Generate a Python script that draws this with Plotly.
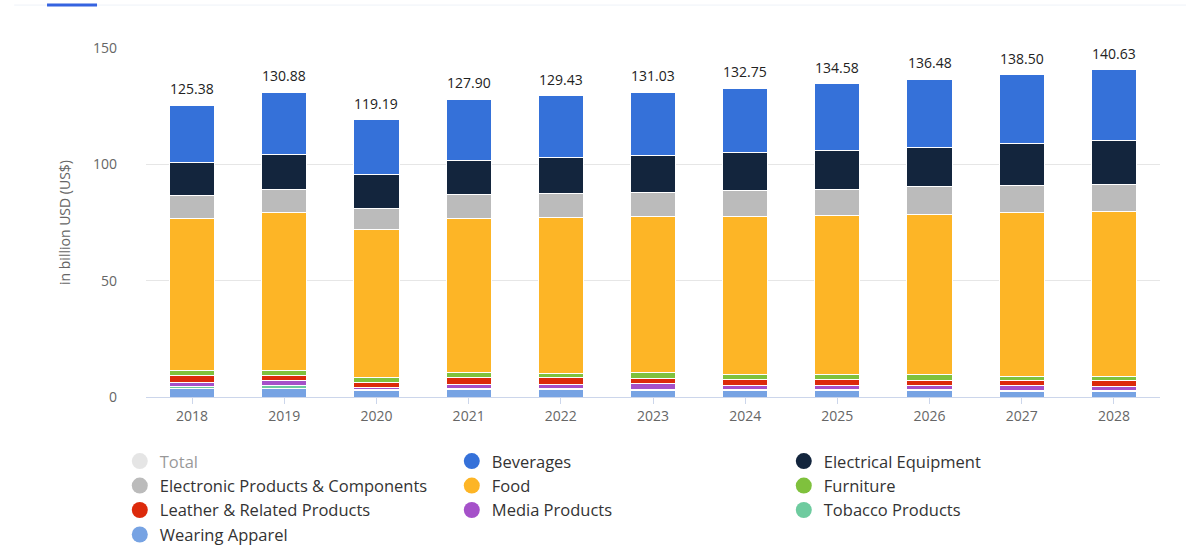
import plotly.graph_objects as go

years = ["2018", "2019", "2020", "2021", "2022", "2023", "2024", "2025", "2026", "2027", "2028"]
totals = [125.38, 130.88, 119.19, 127.90, 129.43, 131.03, 132.75, 134.58, 136.48, 138.50, 140.63]

wearing_apparel = [3.6, 3.7, 2.8, 3.1, 3.1, 3.0, 2.7, 2.7, 2.7, 2.4, 2.4]
tobacco = [1.1, 1.1, 0.3, 0.5, 0.4, 0.3, 0.4, 0.4, 0.4, 0.3, 0.3]
media = [1.6, 2.1, 1.0, 1.6, 1.7, 2.3, 1.8, 1.8, 1.8, 2.2, 1.7]
leather = [3.0, 2.5, 2.3, 3.1, 3.2, 2.2, 2.8, 2.8, 2.4, 2.4, 2.9]
furniture = [2.2, 2.2, 1.9, 2.1, 1.9, 2.6, 2.1, 2.1, 2.5, 1.7, 1.7]
food = [65.4, 67.6, 63.5, 66.5, 66.8, 67.1, 67.7, 68.4, 68.8, 70.2, 70.9]
electronic = [9.5, 10.1, 9.4, 10.0, 10.4, 10.6, 11.2, 11.2, 11.8, 11.9, 11.6]
electrical = [14.5, 15.0, 14.5, 14.9, 15.6, 15.6, 16.3, 16.7, 16.7, 17.9, 18.6]
beverages = [24.48, 26.58, 23.49, 26.10, 26.33, 27.33, 27.75, 28.48, 29.38, 29.50, 30.53]

# stacking order bottom -> top
stack = [
    ("Wearing Apparel", wearing_apparel, "#77a3e3"),
    ("Tobacco Products", tobacco, "#6ecb9f"),
    ("Media Products", media, "#a551c9"),
    ("Leather & Related Products", leather, "#dc2a0b"),
    ("Furniture", furniture, "#7fc13d"),
    ("Food", food, "#fdb526"),
    ("Electronic Products & Components", electronic, "#bbbbbb"),
    ("Electrical Equipment", electrical, "#13253d"),
    ("Beverages", beverages, "#3571d9"),
]
colors = {name: c for name, _, c in stack}

legend_order = ["Total", "Beverages", "Electrical Equipment",
                "Electronic Products & Components", "Food", "Furniture",
                "Leather & Related Products", "Media Products", "Tobacco Products",
                "Wearing Apparel"]
colors["Total"] = "#cccccc"

FONT = "Open Sans"

fig = go.Figure()
for name, vals, col in stack:
    fig.add_trace(go.Bar(
        x=years, y=vals, name=name,
        marker=dict(color=col, line=dict(color="white", width=1)),
        showlegend=False,
    ))

# legend entries with circle symbols (no drawn data, on a hidden overlay axis)
for name in legend_order:
    fig.add_trace(go.Scatter(
        x=[None], y=[None], mode="markers", name=name, xaxis="x2", yaxis="y2",
        marker=dict(symbol="circle", size=16, color=colors[name]),
        visible="legendonly" if name == "Total" else True,
        showlegend=True, hoverinfo="skip",
    ))

# total labels above bars (x given as category index)
for i, t in enumerate(totals):
    fig.add_annotation(x=i, y=t, xref="x", yref="y", text=f"{t:.2f}", showarrow=False,
                       yanchor="bottom", yshift=5,
                       font=dict(family=FONT, size=14, color="#222222"))

fig.update_layout(
    barmode="stack",
    bargap=0.51,
    width=1186, height=546,
    margin=dict(l=146, r=26, t=48, b=149),
    plot_bgcolor="white", paper_bgcolor="white",
    font=dict(family=FONT, color="#666666", size=14),
    showlegend=True,
    legend=dict(
        orientation="h", xref="container", x=0.101, xanchor="left",
        yref="container", y=0.187, yanchor="top",
        entrywidth=287, entrywidthmode="pixels", traceorder="normal",
        font=dict(family=FONT, size=16.5, color="#333333"),
        bgcolor="rgba(0,0,0,0)",
    ),
    xaxis=dict(
        type="category", range=[-0.5, len(years) - 0.5], autorange=False,
        showgrid=False, showline=True, linecolor="#ccd6eb", linewidth=1,
        ticks="outside", ticklen=6, tickcolor="#ccd6eb",
        tickfont=dict(family=FONT, size=14, color="#666666"),
    ),
    xaxis2=dict(overlaying="x", visible=False, range=[0, 1]),
    yaxis=dict(
        range=[0, 150], tickvals=[0, 50, 100, 150], showgrid=True, gridcolor="#e6e6e6",
        zeroline=False, showline=False, ticks="", ticklabelstandoff=28,
        tickfont=dict(family=FONT, size=14, color="#666666"),
        title=dict(text="in billion USD (US$)",
                   font=dict(family=FONT, size=14, color="#666666"), standoff=19),
    ),
    yaxis2=dict(overlaying="y", visible=False, range=[0, 1]),
    shapes=[
        dict(type="line", xref="paper", yref="paper", x0=-0.13, x1=1.03, y0=1.123, y1=1.123,
             line=dict(color="#eef2f8", width=1)),
        dict(type="line", xref="paper", yref="paper", x0=-0.0976, x1=-0.0483, y0=1.123, y1=1.123,
             line=dict(color="#3563e0", width=3)),
    ],
)

fig.write_html("out.html")
